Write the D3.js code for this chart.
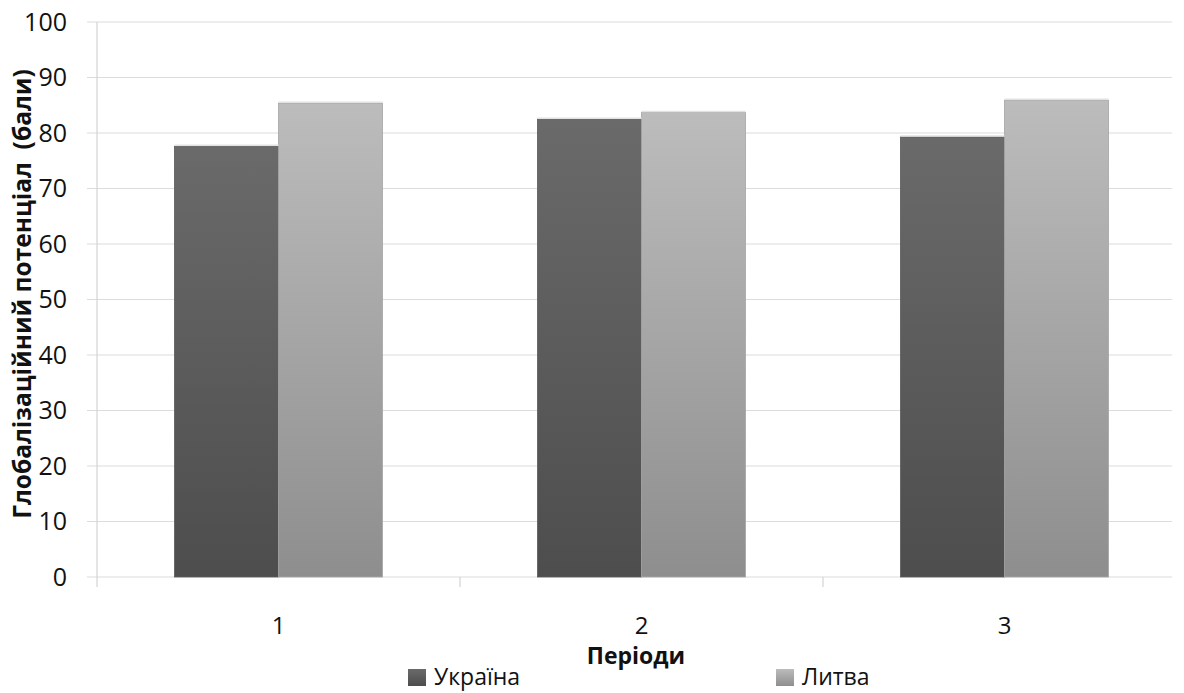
<!DOCTYPE html>
<html>
<head>
<meta charset="utf-8">
<script src="https://cdn.jsdelivr.net/npm/d3@7"></script>
<style>
  body { margin: 0; background: #fff; }
  text { font-family: "Open Sans", "Noto Sans", sans-serif; fill: #111; }
</style>
</head>
<body>
<svg></svg>
<script>
const periods = ["1", "2", "3"];
const seriesNames = ["Україна", "Литва"];
const ukraine = [77.6, 82.5, 79.3];
const lithuania = [85.35, 83.7, 85.9];
const yTicks = [0, 10, 20, 30, 40, 50, 60, 70, 80, 90, 100];

const svgWidth = 1184, svgHeight = 693;
const margin = { top: 22, right: -2, bottom: 116, left: 97 };
const width = svgWidth - margin.left - margin.right;
const height = svgHeight - margin.top - margin.bottom;

const svg = d3.select("svg")
  .attr("width", svgWidth)
  .attr("height", svgHeight);

const defs = svg.append("defs");
const grads = [
  { id: "gDark", top: "#6a6a6a", bottom: "#4d4d4d" },
  { id: "gLight", top: "#bcbcbc", bottom: "#8e8e8e" }
];
grads.forEach(gd => {
  const lg = defs.append("linearGradient")
    .attr("id", gd.id).attr("x1", 0).attr("y1", 0).attr("x2", 0).attr("y2", 1);
  lg.append("stop").attr("offset", "0%").attr("stop-color", gd.top);
  lg.append("stop").attr("offset", "100%").attr("stop-color", gd.bottom);
});

const g = svg.append("g")
  .attr("transform", "translate(" + margin.left + "," + margin.top + ")");

const x0 = d3.scaleBand().domain(periods).range([0, width]).paddingInner(0).paddingOuter(0);
const x1 = d3.scaleBand().domain(seriesNames).range([0, x0.bandwidth()]).paddingInner(0).paddingOuter(0.745);
const y = d3.scaleLinear().domain([0, 100]).range([height, 0]);

// gridlines
g.append("g")
  .selectAll("line")
  .data(yTicks)
  .join("line")
  .attr("x1", -10).attr("x2", width - 14)
  .attr("y1", d => y(d)).attr("y2", d => y(d))
  .attr("stroke", "#dcdcdc").attr("stroke-width", 1.2);

// y axis
const yAxis = g.append("g")
  .call(d3.axisLeft(y).tickValues(yTicks).tickSize(0).tickPadding(30));
yAxis.select(".domain").remove();
yAxis.selectAll("text").style("font-size", "25px").attr("fill", "#111");

g.append("line")
  .attr("x1", 0).attr("x2", 0).attr("y1", 0).attr("y2", height + 10)
  .attr("stroke", "#d4d4d4").attr("stroke-width", 1.2);

// category ticks
g.append("g")
  .selectAll("line")
  .data(periods.slice(1))
  .join("line")
  .attr("x1", d => x0(d)).attr("x2", d => x0(d))
  .attr("y1", height).attr("y2", height + 10)
  .attr("stroke", "#d4d4d4").attr("stroke-width", 1.2);

// x labels
const xAxis = g.append("g")
  .attr("transform", "translate(0," + height + ")")
  .call(d3.axisBottom(x0).tickSize(0).tickPadding(0));
xAxis.select(".domain").remove();
xAxis.selectAll("text")
  .attr("dy", null)
  .attr("y", 57)
  .style("font-size", "24px").attr("fill", "#111");

// bars
const data = periods.map((p, i) => ({ period: p, values: [ukraine[i], lithuania[i]] }));
const groups = g.append("g")
  .selectAll("g")
  .data(data)
  .join("g")
  .attr("transform", d => "translate(" + x0(d.period) + ",0)");

groups.selectAll("rect")
  .data(d => d.values.map((v, j) => ({ name: seriesNames[j], value: v, j: j })))
  .join("rect")
  .attr("x", d => x1(d.name))
  .attr("y", d => y(d.value))
  .attr("width", x1.bandwidth())
  .attr("height", d => height - y(d.value))
  .attr("fill", d => d.j === 0 ? "url(#gDark)" : "url(#gLight)")
  .attr("stroke", d => d.j === 0 ? "#5a5a5a" : "#a5a5a5")
  .attr("stroke-width", 0.8);

// top highlight
groups.selectAll("line.hl")
  .data(d => d.values.map((v, j) => ({ name: seriesNames[j], value: v })))
  .join("line")
  .attr("class", "hl")
  .attr("x1", d => x1(d.name)).attr("x2", d => x1(d.name) + x1.bandwidth())
  .attr("y1", d => y(d.value) - 1).attr("y2", d => y(d.value) - 1)
  .attr("stroke", "#e2e2e2").attr("stroke-width", 1.5);

// y axis title
svg.append("text")
  .attr("transform", "translate(31,294) rotate(-90)")
  .attr("text-anchor", "middle")
  .style("font-size", "24.5px")
  .style("font-weight", "bold")
  .style("white-space", "pre")
  .attr("xml:space", "preserve")
  .text("Глобалізаційний потенціал  (бали)");

// x axis title
svg.append("text")
  .attr("x", 636).attr("y", 664)
  .attr("text-anchor", "middle")
  .style("font-size", "23px")
  .style("font-weight", "bold")
  .text("Періоди");

// legend
const legendX = [408, 776];
const legend = svg.append("g")
  .selectAll("g")
  .data(seriesNames)
  .join("g")
  .attr("transform", (d, i) => "translate(" + legendX[i] + ",669)");
legend.append("rect")
  .attr("x", 0).attr("y", 0).attr("width", 18).attr("height", 17)
  .attr("fill", (d, i) => i === 0 ? "url(#gDark)" : "url(#gLight)");
legend.append("text")
  .attr("x", 26).attr("y", 16)
  .style("font-size", "23px")
  .text(d => d);
</script>
</body>
</html>
